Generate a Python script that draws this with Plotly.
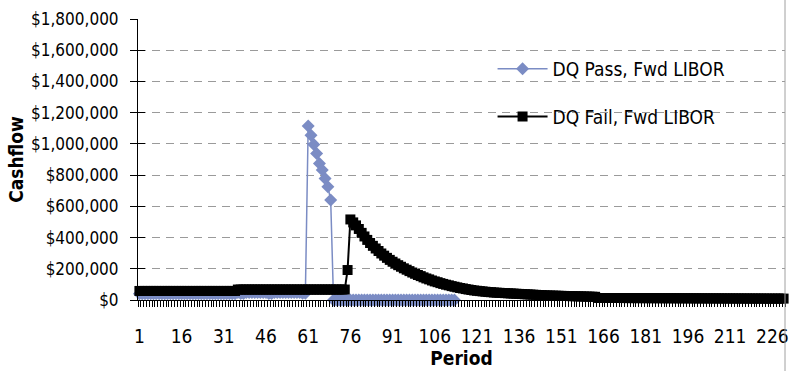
import plotly.graph_objects as go

# Period index (category axis) and the two cashflow series
periods = list(range(1, 231))

dq_pass_fwd_libor = [
    40000, 40000, 40000, 40000, 40000, 40000, 40000, 40000, 40000, 40000,
    40000, 40000, 40000, 40000, 40000, 40000, 40000, 40000, 40000, 40000,
    40000, 40000, 40000, 40000, 40000, 40000, 40000, 40000, 40000, 40000,
    40000, 40000, 40000, 40000, 40000, 48000, 42000, 42000, 48000, 48000,
    48000, 48000, 48000, 48000, 48000, 48000, 42000, 42000, 48000, 48000,
    48000, 48000, 48000, 48000, 48000, 48000, 48000, 48000, 44000, 44000,
    1115000, 1056000, 996000, 939000, 875000, 832000, 779000, 725000, 640000, 0,
    0, 0, 0, 0, 0, 0, 0, 0, 0, 0,
    0, 0, 0, 0, 0, 0, 0, 0, 0, 0,
    0, 0, 0, 0, 0, 0, 0, 0, 0, 0,
    0, 0, 0, 0, 0, 0, 0, 0, 0, 0,
    0, 0, 0,
]

dq_fail_fwd_libor = [
    58000, 58000, 58000, 58000, 58000, 58000, 58000, 58000, 58000, 58000,
    58000, 58000, 58000, 58000, 58000, 58000, 58000, 58000, 58000, 58000,
    58000, 58000, 58000, 58000, 58000, 58000, 58000, 58000, 58000, 58000,
    58000, 58000, 58000, 58000, 58000, 67000, 67000, 67000, 67000, 67000,
    67000, 67000, 67000, 67000, 67000, 67000, 67000, 67000, 67000, 67000,
    67000, 67000, 67000, 67000, 67000, 67000, 67000, 67000, 67000, 67000,
    67000, 67000, 67000, 67000, 67000, 67000, 67000, 67000, 67000, 67000,
    67000, 67000, 67000, 67000, 192000, 516000, 497000, 478000, 455000, 430000,
    407000, 385000, 365000, 347000, 330000, 314000, 298000, 284000, 270000, 257000,
    245000, 234000, 223000, 213000, 203000, 194000, 185000, 176000, 168000, 160000,
    153000, 145000, 138000, 132000, 125000, 119000, 114000, 108000, 103000, 98000,
    94000, 89000, 85000, 81000, 77000, 74000, 70000, 67000, 64000, 61000,
    59000, 57000, 55000, 53000, 51000, 50000, 48000, 47000, 46000, 45000,
    44000, 43000, 42000, 41000, 40000, 39000, 38000, 37000, 36000, 35000,
    34000, 33000, 32000, 31000, 30000, 29000, 28500, 28000, 27500, 27000,
    26500, 26000, 25500, 25000, 24500, 24000, 23500, 23000, 22500, 22000,
    21500, 21000, 20500, 13000, 13000, 13000, 12800, 12800, 12800, 12600,
    12600, 12600, 12400, 12400, 12400, 12200, 12200, 12200, 12000, 12000,
    12000, 11800, 11800, 11800, 11600, 11600, 11600, 11400, 11400, 11400,
    11200, 11200, 11200, 11000, 11000, 11000, 10800, 10800, 10800, 10600,
    10600, 10600, 10400, 10400, 10400, 10200, 10200, 10200, 10000, 10000,
    10000, 9800, 9800, 9800, 9600, 9600, 9600, 9400, 9400, 9400,
    9200, 9200, 9200, 9000, 9000, 9000, 9000, 9000, 9000, 9000,
]

x_tick_vals = [1, 16, 31, 46, 61, 76, 91, 106, 121, 136, 151, 166, 181, 196, 211, 226]
y_tick_vals = [0, 200000, 400000, 600000, 800000, 1000000, 1200000, 1400000, 1600000, 1800000]
y_range = [0, 1800000]
x_range = [0.5, 230.5]

FONT = "Liberation Sans Narrow, Arial Narrow, DejaVu Sans Condensed, sans-serif"
BLUE = "#7b8cc4"

fig = go.Figure()

fig.add_trace(go.Scatter(
    x=periods[:len(dq_pass_fwd_libor)],
    y=dq_pass_fwd_libor,
    name="DQ Pass, Fwd LIBOR",
    legendgroup="pass",
    mode="lines+markers",
    cliponaxis=False,
    line=dict(color=BLUE, width=1.5),
    marker=dict(symbol="diamond", size=10, color=BLUE),
))

fig.add_trace(go.Scatter(
    x=periods,
    y=dq_fail_fwd_libor,
    name="DQ Fail, Fwd LIBOR",
    legendgroup="fail",
    mode="lines+markers",
    cliponaxis=False,
    line=dict(color="#000000", width=2),
    marker=dict(symbol="square", size=10, color="#000000"),
))

# empty trace carrying the inner half of the crossing y ticks
fig.add_trace(go.Scatter(x=[], y=[], yaxis="y2", showlegend=False, hoverinfo="skip"))

# white panel behind the legend, drawn above the gridlines
span_x = x_range[1] - x_range[0]
fig.add_shape(
    type="rect", xref="x", yref="y",
    x0=x_range[0] + 0.522 * span_x, x1=x_range[0] + 0.943 * span_x,
    y0=0.57 * y_range[1], y1=0.93 * y_range[1],
    fillcolor="white", line=dict(width=0), layer="below",
)
# chart area edge on the right
fig.add_shape(
    type="line", xref="paper", yref="paper",
    x0=1.0, x1=1.0, y0=-0.27, y1=1.07,
    line=dict(color="#a0a0a0", width=1), layer="above",
)

fig.update_layout(
    width=791, height=371,
    margin=dict(l=138, r=2, t=19, b=71),
    paper_bgcolor="white",
    plot_bgcolor="white",
    font=dict(family=FONT, size=18, color="#000000"),
    showlegend=True,
    legend=dict(
        x=0.548, xanchor="left",
        y=0.89, yanchor="top",
        bgcolor="rgba(0,0,0,0)",
        font=dict(family=FONT, size=19, color="#000000"),
        itemwidth=50,
        tracegroupgap=20,
        traceorder="grouped",
    ),
    xaxis=dict(
        range=x_range,
        tickmode="array",
        tickvals=x_tick_vals,
        ticktext=[str(v) for v in x_tick_vals],
        ticks="",
        ticklabelstandoff=19,
        ticklabeloverflow="allow",
        showgrid=False,
        zeroline=False,
        showline=True,
        linecolor="#000000",
        linewidth=1,
        minor=dict(ticks="outside", tick0=0.5, dtick=1, ticklen=6,
                   tickcolor="#000000", tickwidth=1, showgrid=False),
        title=dict(text="<b>Period</b>", font=dict(family=FONT, size=19), standoff=2),
        tickfont=dict(family=FONT, size=19),
    ),
    yaxis=dict(
        range=y_range,
        tickmode="array",
        tickvals=y_tick_vals,
        tickformat="$,.0f",
        ticks="outside",
        ticklen=7,
        tickcolor="#000000",
        ticklabelstandoff=8,
        showgrid=True,
        gridcolor="#9a9a9a",
        griddash="8px,6px",
        gridwidth=1,
        zeroline=False,
        showline=True,
        linecolor="#000000",
        linewidth=1,
        title=dict(text="<b>Cashflow</b>", font=dict(family=FONT, size=19), standoff=2),
        tickfont=dict(family=FONT, size=17),
    ),
    yaxis2=dict(
        overlaying="y",
        side="left",
        anchor="x",
        range=y_range,
        tickmode="array",
        tickvals=y_tick_vals,
        ticks="inside",
        ticklen=7,
        tickcolor="#000000",
        showticklabels=False,
        showgrid=False,
        zeroline=False,
        showline=False,
    ),
)

fig.write_html("out.html")
